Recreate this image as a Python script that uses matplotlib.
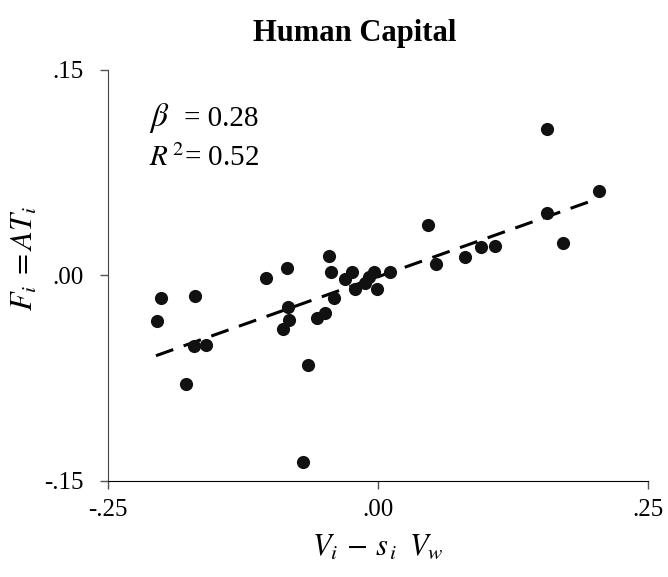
import matplotlib
matplotlib.use("Agg")
import matplotlib.pyplot as plt
import numpy as np

plt.rcParams['font.family'] = ['Liberation Serif', 'DejaVu Serif']
plt.rcParams['mathtext.fontset'] = 'stix'

# data
x_vals = [-0.2041, -0.2009, -0.1692, -0.1698, -0.1587, -0.1775, -0.1034, -0.0837,
          -0.0828, -0.0819, -0.0880, -0.0648, -0.0692, -0.0559, -0.0488, -0.0454,
          -0.0435, -0.0405, -0.0303, -0.0235, -0.0210, -0.0118, -0.0081, -0.0034,
          -0.0006, 0.0117, 0.0466, 0.0543, 0.0808, 0.0959, 0.1083, 0.1568,
          0.1570, 0.1713, 0.2046]
y_vals = [-0.0333, -0.0168, -0.0148, -0.0514, -0.0508, -0.0791, -0.0022, 0.0051,
          -0.0231, -0.0324, -0.0392, -0.0657, -0.1366, -0.0311, -0.0275, 0.0144,
          0.0025, -0.0168, -0.0026, 0.0027, -0.0099, -0.0056, -0.0009, 0.0027,
          -0.0099, 0.0022, 0.0365, 0.0085, 0.0137, 0.0210, 0.0217, 0.1072,
          0.0456, 0.0239, 0.0619]
fit_x = [-0.2053, 0.2030]
fit_y = [-0.0587, 0.0558]
x_ticks = [-0.25, 0.0, 0.25]
x_ticklabels = ['-.25', '.00', '.25']
y_ticks = [-0.15, 0.0, 0.15]
y_ticklabels = ['-.15', '.00', '.15']
title = 'Human Capital'
beta_text = r'$\beta$  = 0.28'
r2_text = r'$R^{\,2}$= 0.52'

fig = plt.figure(figsize=(6.68, 5.77), dpi=100)
ax = fig.add_axes([107.7/668, 1-480.7/577, 540/668, 410.7/577])

ax.scatter(x_vals, y_vals, s=90, color='#111111', zorder=3, linewidths=0)
ax.plot(fit_x, fit_y, color='black', lw=2.2, dashes=(6, 3.6), zorder=2)

ax.set_xlim(-0.25, 0.25)
ax.set_ylim(-0.15, 0.15)
ax.set_xticks(x_ticks)
ax.set_xticklabels(x_ticklabels)
ax.set_yticks(y_ticks)
ax.set_yticklabels(y_ticklabels)
ax.tick_params(axis='both', labelsize=18, length=6, width=1, color='#555555')
ax.tick_params(axis='y', pad=11)
ax.tick_params(axis='x', pad=7)
for s in ['top', 'right']:
    ax.spines[s].set_visible(False)
ax.spines['left'].set_color('#444444')
ax.spines['bottom'].set_color('black')

ax.set_xlabel(r'$V_i\,-\,s_{\,i}\;\;V_w$', fontsize=22, labelpad=9)
ax.set_ylabel(r'$F_i\;=AT_i$', fontsize=22, va='center')
ax.yaxis.set_label_coords(-0.153, 0.54)

fig.text(355/668, 1-34/577, title, ha='center', va='center',
         fontsize=22, fontweight='bold')

ax.text(149/668, 1-126/577, r'$\mathit{\beta}$', transform=fig.transFigure,
        ha='left', va='baseline', fontsize=24)
ax.text(184/668, 1-126/577, '= 0.28', transform=fig.transFigure,
        ha='left', va='baseline', fontsize=21)
ax.text(149/668, 1-166/577, r2_text, transform=fig.transFigure,
        ha='left', va='baseline', fontsize=21)

fig.savefig('out.png', dpi=100)
